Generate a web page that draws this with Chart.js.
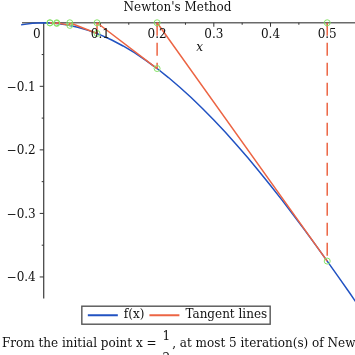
<!DOCTYPE html>
<html><head><meta charset="utf-8">
<script src="https://cdn.jsdelivr.net/npm/chart.js@4.4.1/dist/chart.umd.min.js"></script>
<style>html,body{margin:0;padding:0;background:#fff}canvas{display:block}</style>
</head><body>
<canvas id="c" width="355" height="355"></canvas>
<script>
// ---- data ----
const curveX = [-0.04,-0.02,0,0.02,0.04,0.06,0.08,0.10,0.12,0.14,0.16,0.18,0.20,0.22,0.24,0.26,0.28,0.30,0.32,0.34,0.36,0.38,0.40,0.42,0.44,0.46,0.48,0.50,0.52,0.54,0.56];
const curveY = [-0.0033,-0.0008,0,-0.0008,-0.0031,-0.0070,-0.0123,-0.0190,-0.0271,-0.0365,-0.0471,-0.0590,-0.0720,-0.0862,-0.1014,-0.1176,-0.1348,-0.1530,-0.1720,-0.1919,-0.2125,-0.2339,-0.2560,-0.2787,-0.3020,-0.3259,-0.3502,-0.3750,-0.4002,-0.4257,-0.4516];
const iterX = [0.5, 0.2, 0.094, 0.046, 0.023, 0.011];
const iterY = [-0.375, -0.072, -0.0168, -0.0041, -0.001, -0.00025];
const xTicks = [0.1, 0.2, 0.3, 0.4, 0.5];
const xTickLabels = ['0.1', '0.2', '0.3', '0.4', '0.5'];
const xMinorTicks = [0.05, 0.15, 0.25, 0.35, 0.45];
const yTicks = [-0.1, -0.2, -0.3, -0.4];
const yTickLabels = ['\u22120.1', '\u22120.2', '\u22120.3', '\u22120.4'];
const yMinorTicks = [-0.05, -0.15, -0.25, -0.35];
const originLabel = '0';
const xAxisLabel = 'x';
const titleText = "Newton's Method";
const seriesNames = ['f(x)', 'Tangent lines'];
const captionStart = 'From the initial point x =';
const captionNum = '1';
const captionDen = '2';
const captionEnd = ", at most 5 iteration(s) of Newton's method are shown.";

// ---- build library data ----
const curveData = curveX.map((x, i) => ({x, y: curveY[i]}));
const tangentData = [];
for (let n = 0; n < iterX.length - 1; n++) {
  tangentData.push({x: iterX[n], y: iterY[n]}, {x: iterX[n + 1], y: 0}, {x: iterX[n + 1], y: null});
}
const verticalData = [];
for (let n = 0; n < iterX.length; n++) {
  verticalData.push({x: iterX[n], y: 0}, {x: iterX[n], y: iterY[n]}, {x: iterX[n], y: null});
}
const circleData = [];
iterX.forEach((x, i) => { circleData.push({x, y: 0}, {x, y: iterY[i]}); });

const SERIF = "'DejaVu Serif', serif";
const FS = 12;
const BLUE = '#2152c2';
const ORANGE = '#ec6544';
const GREEN = '#86e266';
const X_START = -0.0383;
const Y_END = -0.4339;

const axesPlugin = {
  id: 'axesPlugin',
  beforeDatasetsDraw(chart) {
    const {ctx, chartArea: a, scales: {x, y}} = chart;
    const x0 = x.getPixelForValue(0), y0 = y.getPixelForValue(0);
    ctx.save();
    ctx.strokeStyle = '#6a6a6a'; ctx.lineWidth = 1.6;
    ctx.beginPath(); ctx.moveTo(x.getPixelForValue(X_START), y0); ctx.lineTo(a.right, y0); ctx.stroke();
    ctx.strokeStyle = '#3a3a3a'; ctx.lineWidth = 1.2;
    ctx.beginPath(); ctx.moveTo(x0, y0); ctx.lineTo(x0, y.getPixelForValue(Y_END)); ctx.stroke();
    ctx.strokeStyle = '#333'; ctx.lineWidth = 1;
    const seg = (ax, ay, bx, by) => { ctx.beginPath(); ctx.moveTo(ax, ay); ctx.lineTo(bx, by); ctx.stroke(); };
    xTicks.forEach(v => { const p = x.getPixelForValue(v); seg(p, y0, p, y0 + 4); });
    xMinorTicks.forEach(v => { const p = x.getPixelForValue(v); seg(p, y0, p, y0 + 2); });
    yTicks.forEach(v => { const p = y.getPixelForValue(v); seg(x0 - 4, p, x0, p); });
    yMinorTicks.forEach(v => { const p = y.getPixelForValue(v); seg(x0 - 2, p, x0, p); });
    ctx.restore();
  },
  afterDatasetsDraw(chart) {
    const {ctx, scales: {x, y}} = chart;
    const x0 = x.getPixelForValue(0), y0 = y.getPixelForValue(0);
    ctx.save();
    ctx.font = FS + 'px ' + SERIF;
    ctx.textBaseline = 'alphabetic';
    ctx.textAlign = 'center';
    ctx.fillStyle = '#111';
    xTicks.forEach((v, i) => {
      ctx.fillText(xTickLabels[i], x.getPixelForValue(v), y0 + 15.5);
    });
    ctx.fillText(originLabel, x0 - 7, y0 + 15.5);
    ctx.textAlign = 'right';
    yTicks.forEach((v, i) => {
      ctx.fillText(yTickLabels[i], x0 - 8, y.getPixelForValue(v) + 4.5);
    });
    ctx.textAlign = 'center';
    ctx.font = 'italic ' + FS + 'px ' + SERIF;
    ctx.fillText(xAxisLabel, x.getPixelForValue(0.275), y0 + 28);
    ctx.restore();
  },
  afterDraw(chart) {
    const {ctx} = chart;
    const lg = chart.legend;
    ctx.save();
    if (lg && lg.legendHitBoxes && lg.legendHitBoxes.length) {
      const hb = lg.legendHitBoxes;
      const first = hb[0], last = hb[hb.length - 1];
      const l = first.left - 6, r = last.left + last.width + 3;
      const t = first.top - 3, h = first.height + 6;
      ctx.strokeStyle = '#555'; ctx.lineWidth = 1.4;
      ctx.strokeRect(l, t, r - l, h);
    }
    ctx.fillStyle = '#111';
    ctx.font = FS + 'px ' + SERIF;
    ctx.textBaseline = 'alphabetic';
    ctx.textAlign = 'left';
    const base = 346.5;
    let cx = 2;
    ctx.fillText(captionStart, cx, base);
    cx += ctx.measureText(captionStart).width + 5;
    const fw = ctx.measureText(captionNum).width + 2;
    ctx.textAlign = 'center';
    ctx.fillText(captionNum, cx + fw / 2, base - 7);
    ctx.fillText(captionDen, cx + fw / 2, base + 15);
    cx += fw + 1;
    ctx.textAlign = 'left';
    ctx.fillText(captionEnd, cx, base);
    ctx.restore();
  }
};

new Chart(document.getElementById('c'), {
  type: 'scatter',
  data: {
    datasets: [
      {label: seriesNames[0], data: curveData, showLine: true, borderColor: BLUE, backgroundColor: BLUE,
       borderWidth: 1.5, pointRadius: 0, tension: 0, order: 3, clip: {left: 0, top: 5, right: 0, bottom: 4}},
      {label: seriesNames[1], data: tangentData, showLine: true, borderColor: ORANGE, backgroundColor: ORANGE,
       borderWidth: 1.5, pointRadius: 0, spanGaps: false, order: 1},
      {label: 'verticals', data: verticalData, showLine: true, borderColor: ORANGE, backgroundColor: ORANGE,
       borderWidth: 1.5, borderDash: [13, 7], pointRadius: 0, spanGaps: false, order: 2},
      {label: 'points', data: circleData, showLine: false, borderColor: GREEN, backgroundColor: 'rgba(0,0,0,0)',
       borderWidth: 1, pointRadius: 3, order: 0}
    ]
  },
  options: {
    responsive: false,
    animation: false,
    layout: {autoPadding: false, padding: {left: 0, right: 0, top: 0, bottom: 23.8}},
    scales: {
      x: {type: 'linear', min: -0.0771, max: 0.549, display: false},
      y: {type: 'linear', min: -0.4331, max: 0.00846, display: false}
    },
    plugins: {
      title: {display: true, text: titleText, color: '#111', font: {family: SERIF, size: FS, weight: 'normal'},
              padding: {top: 1, bottom: 2}},
      legend: {
        display: true, position: 'bottom',
        title: {display: true, text: ' ', font: {size: 1}, padding: {top: 0, bottom: 5}},
        labels: {
          color: '#111', font: {family: SERIF, size: FS}, padding: 5,
          usePointStyle: true, pointStyle: 'line', pointStyleWidth: 30,
          filter: item => item.datasetIndex < 2,
          sort: (a, b) => a.datasetIndex - b.datasetIndex,
          generateLabels: chart => Chart.defaults.plugins.legend.labels.generateLabels(chart).map(it => Object.assign(it, {lineWidth: 2}))
        }
      },
      tooltip: {enabled: false}
    }
  },
  plugins: [axesPlugin]
});
</script>
</body></html>
